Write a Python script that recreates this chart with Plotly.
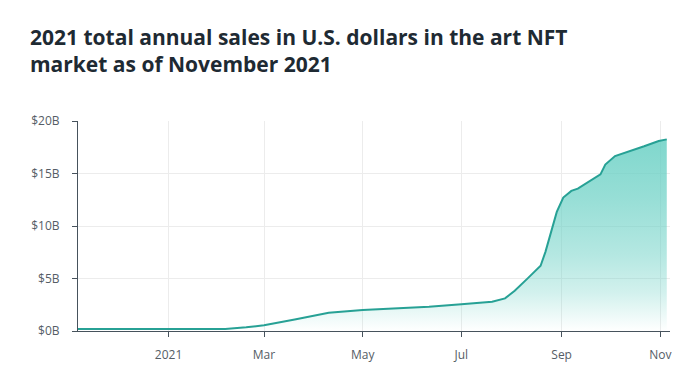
import plotly.graph_objects as go

dates = [
    "2020-11-06", "2020-12-15", "2021-01-20", "2021-02-05", "2021-02-18", "2021-03-01",
    "2021-03-20", "2021-04-10", "2021-05-01", "2021-06-11", "2021-07-01",
    "2021-07-20", "2021-07-28", "2021-08-03", "2021-08-11", "2021-08-19",
    "2021-08-22", "2021-08-29", "2021-09-02", "2021-09-07", "2021-09-11",
    "2021-09-18", "2021-09-25", "2021-09-28", "2021-10-04", "2021-10-22",
    "2021-10-31", "2021-11-05",
]
sales_billion = [
    0.2, 0.2, 0.2, 0.2, 0.35, 0.54,
    1.1, 1.74, 2.0, 2.31, 2.54,
    2.79, 3.11, 3.83, 5.01, 6.21,
    7.54, 11.34, 12.71, 13.34, 13.56,
    14.26, 14.92, 15.85, 16.66, 17.59,
    18.09, 18.25,
]

x_tick_vals = ["2021-01-01", "2021-03-01", "2021-05-01", "2021-07-01", "2021-09-01", "2021-11-01"]
x_tick_text = ["2021", "Mar", "May", "Jul", "Sep", "Nov"]
y_tick_vals = [0, 5, 10, 15, 20]
y_tick_text = ["$0B", "$5B", "$10B", "$15B", "$20B"]

title_text = "2021 total annual sales in U.S. dollars in the art NFT<br>market as of November 2021"

fig = go.Figure()
fig.add_trace(go.Scatter(
    x=dates, y=sales_billion, mode="lines",
    line=dict(color="#27a195", width=2),
    fill="tozeroy",
    fillgradient=dict(
        type="vertical",
        start=0, stop=18.3,
        colorscale=[
            [0, "rgba(105,208,196,0)"],
            [0.2, "rgba(105,208,196,0.3)"],
            [0.4, "rgba(105,208,196,0.5)"],
            [0.7, "rgba(105,208,196,0.7)"],
            [1, "rgba(105,208,196,0.85)"],
        ],
    ),
    hoverinfo="skip",
))

axis_font = dict(family="Open Sans", size=12, color="#555d66")

fig.update_layout(
    width=700, height=384,
    paper_bgcolor="white", plot_bgcolor="white",
    margin=dict(l=78, r=30, t=121, b=53),
    showlegend=False,
    title=dict(
        text=title_text,
        font=dict(family="Open Sans", size=21, color="#1e2a33", weight="bold"),
        x=30 / 700, xanchor="left", xref="container",
        y=1 - 45 / 384, yanchor="top", yref="container",
    ),
    xaxis=dict(
        type="date",
        range=["2020-11-06", "2021-11-07"],
        tickvals=x_tick_vals, ticktext=x_tick_text,
        showgrid=True, gridcolor="#ececec", gridwidth=1,
        showline=True, linecolor="#46525c", linewidth=1,
        ticks="outside", ticklen=5, tickcolor="#46525c",
        tickfont=axis_font, ticklabelstandoff=8,
        zeroline=False, fixedrange=True,
    ),
    yaxis=dict(
        range=[0, 20],
        tickvals=y_tick_vals, ticktext=y_tick_text,
        showgrid=True, gridcolor="#ececec", gridwidth=1,
        showline=True, linecolor="#46525c", linewidth=1,
        ticks="outside", ticklen=5, tickcolor="#46525c",
        tickfont=axis_font, ticklabelstandoff=10,
        zeroline=False, fixedrange=True,
    ),
)

fig.write_html(
    "out.html",
    config={"displayModeBar": False},
    post_script="document.body.style.margin='0px';",
)
